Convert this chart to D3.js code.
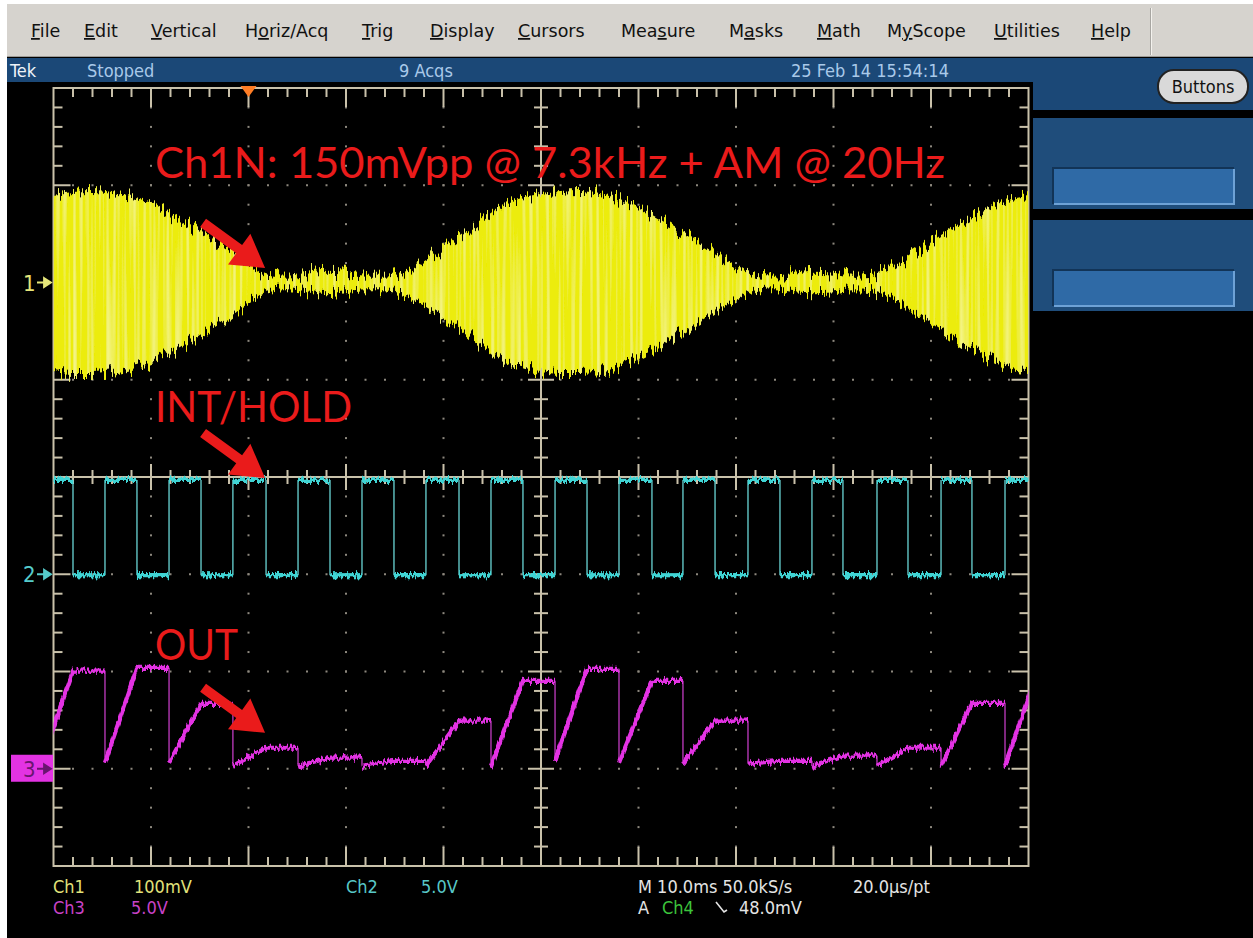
<!DOCTYPE html>
<html>
<head>
<meta charset="utf-8">
<script src="https://cdn.jsdelivr.net/npm/d3@7"></script>
<style>
  body { margin: 0; background: #ffffff; }
  svg { display: block; }
</style>
</head>
<body>
<svg id="scope" width="1253" height="938"></svg>
<script>
// ---------------- data ----------------
const menuItems = ["File", "Edit", "Vertical", "Horiz/Acq", "Trig", "Display", "Cursors",
                   "Measure", "Masks", "Math", "MyScope", "Utilities", "Help"];
const menuUnderline = [0, 0, 0, 1, 0, 0, 0, 3, 1, 0, 1, 0, 0];

const statusLabels = ["Tek", "Stopped", "9 Acqs", "25 Feb 14 15:54:14"];

// Ch1: envelope of the 7.3 kHz carrier (mV about the Ch1 reference), sampled every 2 ms
const ch1TimeMs = [0, 2, 4, 6, 8, 10, 12, 14, 16, 18, 20, 22, 24, 26, 28, 30, 32, 34, 36, 38,
                   40, 42, 44, 46, 48, 50, 52, 54, 56, 58, 60, 62, 64, 66, 68, 70, 72, 74, 76, 78,
                   80, 82, 84, 86, 88, 90, 92, 94, 96, 98, 100];
const ch1UpperMv = [90, 93, 94, 92, 88, 82, 71, 59, 47, 35, 20, 8, 6, 9, 11, 10, 7, 7, 12, 23,
                    35, 48, 65, 79, 87, 91, 93, 94, 91, 86, 77, 66, 54, 42, 29, 17, 8, 6, 9, 11,
                    10, 7, 8, 15, 28, 41, 54, 66, 77, 85, 89];
const ch1LowerMv = [-93, -95, -95, -93, -89, -83, -72, -60, -48, -36, -21, -9, -7, -9, -12, -10, -8, -8, -13, -24,
                    -36, -49, -66, -80, -88, -92, -94, -94, -92, -87, -78, -67, -55, -43, -30, -18, -9, -7, -10, -11,
                    -10, -8, -9, -16, -29, -42, -55, -67, -78, -86, -89];

// Ch2 INT/HOLD: edge times (ms) and the two logic levels (V)
const intRiseMs = [-1.3, 5.28, 11.85, 18.4, 25.08, 31.64, 38.2, 44.87, 51.44, 58.0, 64.56, 71.23, 77.79, 84.46, 91.03, 97.59];
const intFallMs = [2.0, 8.56, 15.13, 21.8, 28.36, 34.92, 41.59, 48.15, 54.72, 61.38, 67.85, 74.51, 80.97, 87.64, 94.2, 100.8];
const intLevelsV = [-0.05, 4.85];

// Ch3 OUT: level reached at the end of each integrate phase, and the reset level (V)
const outHoldV  = [5.04, 5.19, 3.34, 1.08, 0.57, 0.41, 2.47, 4.52, 5.14, 4.52, 2.47, 0.41, 0.67, 1.08, 3.39, 4.8];
const outResetV = [0.2, 0.31, 0.31, 0.15, 0.15, 0.15, 0.15, 0.15, 0.41, 0.31, 0.26, 0.26, 0.15, 0.15, 0.15, 0.15];

// Red annotations: label text and the point (ms, channel value) each arrow points to
const noteLabels = ["Ch1N: 150mVpp @ 7.3kHz + AM @ 20Hz", "INT/HOLD", "OUT"];
const noteTargets = [
  { ch: 1, t: 21.7, v: 15 },
  { ch: 2, t: 21.7, v: 4.95 },
  { ch: 3, t: 21.7, v: 1.85 }
];

// Readouts
const readoutCh = ["Ch1", "Ch2", "Ch3"];
const readoutScale = ["100mV", "5.0V", "5.0V"];
const timebase = "M 10.0ms 50.0kS/s";
const perPoint = "20.0\u00b5s/pt";
const trigSource = "Ch4";
const trigLevel = "48.0mV";
const triggerPosMs = 20;

// ---------------- layout ----------------
const W = 1253, H = 938;
const G = { x0: 53.5, x1: 1028.5, y0: 88, y1: 866 };
const SCOPE_FONT = "'Liberation Sans Narrow','DejaVu Sans Condensed','Arial Narrow',sans-serif";
const UI_FONT = "'DejaVu Sans','Liberation Sans',sans-serif";
const GRAT = "#c9c1aa";
const COL = { ch1: "#ecec0e", ch2: "#3fd4d4", ch3: "#e333e3", red: "#ea1b1b" };

const x = d3.scaleLinear().domain([0, 100]).range([G.x0, G.x1]);       // 10 ms/div
const yDiv = d3.scaleLinear().domain([-4, 4]).range([G.y1, G.y0]);     // divisions
const chY = {
  1: mv => yDiv(2 + mv / 100),   // 100 mV/div, reference +2 div
  2: v => yDiv(-1 + v / 5),      // 5 V/div, reference -1 div
  3: v => yDiv(-3 + v / 5)       // 5 V/div, reference -3 div
};

const svg = d3.select("#scope");
const defs = svg.append("defs");

defs.append("clipPath").attr("id", "gratClip")
  .append("rect").attr("x", G.x0).attr("y", G.y0 - 2)
  .attr("width", G.x1 - G.x0).attr("height", G.y1 - G.y0 + 4);

function userFilter(id) {
  return defs.append("filter").attr("id", id)
    .attr("filterUnits", "userSpaceOnUse")
    .attr("x", 0).attr("y", 0).attr("width", W).attr("height", H);
}

// jagged edges plus faint vertical striations for the dense carrier trace
{
  const f = userFilter("carrier");
  f.append("feTurbulence").attr("type", "fractalNoise").attr("baseFrequency", "0.45 0.01")
    .attr("numOctaves", 2).attr("seed", 3).attr("result", "n");
  f.append("feColorMatrix").attr("in", "n").attr("type", "matrix")
    .attr("values", "0 0 0 0 0.5  1 0 0 0 0  0 0 0 0 0  0 0 0 0 1").attr("result", "d");
  f.append("feDisplacementMap").attr("in", "SourceGraphic").attr("in2", "d")
    .attr("scale", 30).attr("xChannelSelector", "R").attr("yChannelSelector", "G").attr("result", "shape");
  f.append("feTurbulence").attr("type", "fractalNoise").attr("baseFrequency", "0.3 0.004")
    .attr("numOctaves", 1).attr("seed", 8).attr("result", "s0");
  f.append("feColorMatrix").attr("in", "s0").attr("type", "matrix")
    .attr("values", "0 0 0 0 0.98  0 0 0 0 0.98  0 0 0 0 0.5  1.5 0 0 0 -0.72").attr("result", "s1");
  f.append("feComposite").attr("in", "s1").attr("in2", "shape").attr("operator", "in").attr("result", "s2");
  const m = f.append("feMerge");
  m.append("feMergeNode").attr("in", "shape");
  m.append("feMergeNode").attr("in", "s2");
}
{
  const f = userFilter("fuzz");
  f.append("feTurbulence").attr("type", "fractalNoise").attr("baseFrequency", "0.5 0.08")
    .attr("numOctaves", 2).attr("seed", 11).attr("result", "n");
  f.append("feColorMatrix").attr("in", "n").attr("type", "matrix")
    .attr("values", "0 0 0 0 0.5  1 0 0 0 0  0 0 0 0 0  0 0 0 0 1").attr("result", "d");
  f.append("feDisplacementMap").attr("in", "SourceGraphic").attr("in2", "d")
    .attr("scale", 10).attr("xChannelSelector", "R").attr("yChannelSelector", "G");
}

// ---------------- window chrome ----------------
svg.append("rect").attr("width", W).attr("height", H).attr("fill", "#ffffff");
svg.append("rect").attr("x", 7).attr("y", 4).attr("width", W - 7).attr("height", 53).attr("fill", "#d6d3ce");
svg.append("line").attr("x1", 7).attr("x2", W).attr("y1", 56.5).attr("y2", 56.5).attr("stroke", "#9c9a96");
svg.append("line").attr("x1", 1150.5).attr("x2", 1150.5).attr("y1", 8).attr("y2", 55).attr("stroke", "#a8a6a2");
svg.append("line").attr("x1", 1151.5).attr("x2", 1151.5).attr("y1", 8).attr("y2", 55).attr("stroke", "#f4f2ee");

const menuX = [31, 84, 151, 245, 362, 430, 518, 621, 729, 817, 887, 994, 1091];
const menu = svg.append("g").attr("font-family", UI_FONT).attr("font-size", 17.5).attr("fill", "#111");
menuItems.forEach((m, i) => {
  const t = menu.append("text").attr("x", menuX[i]).attr("y", 37);
  const k = menuUnderline[i];
  if (k > 0) t.append("tspan").text(m.slice(0, k));
  t.append("tspan").attr("text-decoration", "underline").text(m[k]);
  t.append("tspan").text(m.slice(k + 1));
});

// black screen area
svg.append("rect").attr("x", 7).attr("y", 57).attr("width", W - 7).attr("height", H - 57).attr("fill", "#000");

// status bar and right-hand control panel
svg.append("rect").attr("x", 7).attr("y", 58).attr("width", W - 7).attr("height", 24).attr("fill", "#1b4877");
svg.append("rect").attr("x", 1033).attr("y", 58).attr("width", W - 1033).attr("height", 52).attr("fill", "#1b4877");
const status = svg.append("g").attr("font-family", SCOPE_FONT).attr("font-size", 18).attr("font-stretch", "condensed");
status.append("text").attr("x", 10).attr("y", 77).attr("fill", "#eef3f8").text(statusLabels[0]);
status.append("text").attr("x", 87).attr("y", 77).attr("fill", "#a9c9e9").text(statusLabels[1]);
status.append("text").attr("x", 399).attr("y", 77).attr("fill", "#a9c9e9").text(statusLabels[2]);
status.append("text").attr("x", 791).attr("y", 77).attr("fill", "#a9c9e9").text(statusLabels[3]);

svg.append("rect").attr("x", 1158).attr("y", 70).attr("width", 90).attr("height", 33).attr("rx", 16)
  .attr("fill", "#d9d9d9").attr("stroke", "#222").attr("stroke-width", 2);
svg.append("text").attr("x", 1203).attr("y", 93).attr("text-anchor", "middle")
  .attr("font-family", SCOPE_FONT).attr("font-size", 18).attr("fill", "#111").text("Buttons");

[118, 220].forEach(top => {
  svg.append("rect").attr("x", 1033).attr("y", top).attr("width", W - 1033).attr("height", 91).attr("fill", "#1f4d7b");
  svg.append("rect").attr("x", 1053).attr("y", top + 50).attr("width", 181).attr("height", 36).attr("fill", "#2f6aa6");
  svg.append("path").attr("d", `M1053,${top + 86}V${top + 50}H1234`).attr("fill", "none").attr("stroke", "#123457").attr("stroke-width", 2);
  svg.append("path").attr("d", `M1054,${top + 86}H1234V${top + 51}`).attr("fill", "none").attr("stroke", "#6ea2d6").attr("stroke-width", 2);
});

// ---------------- graticule ----------------
const grat = svg.append("g");
const divW = (G.x1 - G.x0) / 10, divH = (G.y1 - G.y0) / 8;
// dotted division lines
for (let i = 1; i < 10; i++) {
  if (i === 5) continue;
  for (let j = 1; j < 40; j++) {
    grat.append("rect").attr("x", G.x0 + i * divW - 1).attr("y", G.y0 + j * divH / 5 - 1)
      .attr("width", 2).attr("height", 2).attr("fill", "#8d887e");
  }
}
for (let j = 1; j < 8; j++) {
  if (j === 4) continue;
  for (let i = 1; i < 50; i++) {
    grat.append("rect").attr("x", G.x0 + i * divW / 5 - 1).attr("y", G.y0 + j * divH - 1)
      .attr("width", 2).attr("height", 2).attr("fill", "#8d887e");
  }
}
const cx = G.x0 + 5 * divW, cy = G.y0 + 4 * divH;
grat.append("rect").attr("x", G.x0).attr("y", G.y0).attr("width", G.x1 - G.x0).attr("height", G.y1 - G.y0)
  .attr("fill", "none").attr("stroke", GRAT).attr("stroke-width", 2);
grat.append("line").attr("x1", cx).attr("x2", cx).attr("y1", G.y0).attr("y2", G.y1).attr("stroke", GRAT).attr("stroke-width", 2);
grat.append("line").attr("x1", G.x0).attr("x2", G.x1).attr("y1", cy).attr("y2", cy).attr("stroke", GRAT).attr("stroke-width", 2);
for (let i = 1; i < 50; i++) {
  const xx = G.x0 + i * divW / 5, major = i % 5 === 0;
  const L = major ? 19 : 9;
  grat.append("line").attr("x1", xx).attr("x2", xx).attr("y1", G.y0).attr("y2", G.y0 + L).attr("stroke", GRAT).attr("stroke-width", 2);
  grat.append("line").attr("x1", xx).attr("x2", xx).attr("y1", G.y1).attr("y2", G.y1 - L).attr("stroke", GRAT).attr("stroke-width", 2);
  const c = major ? 13 : 7;
  grat.append("line").attr("x1", xx).attr("x2", xx).attr("y1", cy - c).attr("y2", cy + c).attr("stroke", GRAT).attr("stroke-width", 2);
}
for (let j = 1; j < 40; j++) {
  const yy = G.y0 + j * divH / 5, major = j % 5 === 0;
  const L = major ? 17 : 9;
  grat.append("line").attr("y1", yy).attr("y2", yy).attr("x1", G.x0).attr("x2", G.x0 + L).attr("stroke", GRAT).attr("stroke-width", 2);
  grat.append("line").attr("y1", yy).attr("y2", yy).attr("x1", G.x1).attr("x2", G.x1 - L).attr("stroke", GRAT).attr("stroke-width", 2);
  const c = major ? 13 : 7;
  grat.append("line").attr("y1", yy).attr("y2", yy).attr("x1", cx - c).attr("x2", cx + c).attr("stroke", GRAT).attr("stroke-width", 2);
}

// trigger position marker
const tx = x(triggerPosMs);
svg.append("path").attr("d", `M${tx - 8},${G.y0 - 2}H${tx + 8}L${tx},${G.y0 + 9}Z`).attr("fill", "#ff7d25");

// ---------------- traces ----------------
const traces = svg.append("g").attr("clip-path", "url(#gratClip)");

// Ch1: carrier fills its envelope
const ch1Env = ch1TimeMs.map((t, i) => ({ t, hi: ch1UpperMv[i], lo: ch1LowerMv[i] }));
const ch1Area = d3.area().x(d => x(d.t)).y0(d => chY[1](d.lo)).y1(d => chY[1](d.hi)).curve(d3.curveMonotoneX);
traces.append("g").attr("filter", "url(#carrier)")
  .append("path").datum(ch1Env).attr("d", ch1Area).attr("fill", COL.ch1);

// Ch2: square wave
const line2 = d3.line().x(d => x(d[0])).y(d => chY[2](d[1]));
const [lowV, highV] = intLevelsV;
const intFlat = [], intEdge = [];
intRiseMs.forEach((r, i) => {
  const f = intFallMs[i];
  const next = i + 1 < intRiseMs.length ? intRiseMs[i + 1] : 110;
  intFlat.push([[r, highV], [f, highV]]);
  intFlat.push([[f, lowV], [next, lowV]]);
  intEdge.push([[r, lowV], [r, highV]]);
  intEdge.push([[f, highV], [f, lowV]]);
});
traces.append("g").selectAll("path").data(intEdge).join("path")
  .attr("d", line2).attr("fill", "none").attr("stroke", "#6ad6d6").attr("stroke-width", 1.3);
traces.append("g").attr("filter", "url(#fuzz)").selectAll("path").data(intFlat).join("path")
  .attr("d", line2).attr("fill", "none").attr("stroke", COL.ch2).attr("stroke-width", 4.2);

// Ch3: integrate / hold / reset
const line3 = d3.line().x(d => x(d[0])).y(d => chY[3](d[1]));
const outRun = [], outEdge = [];
intRiseMs.forEach((r, i) => {
  const f = intFallMs[i];
  const next = i + 1 < intRiseMs.length ? intRiseMs[i + 1] : 110;
  if (i > 0) outEdge.push([[r, outHoldV[i - 1]], [r, outResetV[i]]]);
  outRun.push([[r, outResetV[i]], [f, outHoldV[i]], [next, outHoldV[i]]]);
});
traces.append("g").selectAll("path").data(outEdge).join("path")
  .attr("d", line3).attr("fill", "none").attr("stroke", "#c23cc2").attr("stroke-width", 1.3);
traces.append("g").attr("filter", "url(#fuzz)").selectAll("path").data(outRun).join("path")
  .attr("d", line3).attr("fill", "none").attr("stroke", COL.ch3).attr("stroke-width", 4.2)
  .attr("stroke-linejoin", "round");

// ---------------- channel reference markers ----------------
function refMarker(ch, color, boxed) {
  const yy = chY[ch](0);
  const g = svg.append("g");
  let fg = color;
  if (boxed) {
    g.append("rect").attr("x", 11).attr("y", yy - 14).attr("width", 42).attr("height", 27).attr("fill", color);
    fg = "#6a1670";
  }
  g.append("text").attr("x", 23).attr("y", yy + 8).attr("font-family", SCOPE_FONT)
    .attr("font-size", 22).attr("fill", fg).text(String(ch));
  g.append("path").attr("d", `M37,${yy}H49M44,${yy - 4.5}L51,${yy}L44,${yy + 4.5}Z`)
    .attr("stroke", fg).attr("stroke-width", 1.8).attr("fill", fg);
}
refMarker(1, "#e6e67a", false);
refMarker(2, "#56cccc", false);
refMarker(3, COL.ch3, true);

// ---------------- annotations ----------------
const notes = svg.append("g").attr("fill", COL.red).attr("font-family", "Lato, 'Open Sans', sans-serif");
notes.append("text").attr("x", 155).attr("y", 178).attr("font-size", 43)
  .attr("textLength", 790).attr("lengthAdjust", "spacingAndGlyphs").text(noteLabels[0]);
notes.append("text").attr("x", 155).attr("y", 422).attr("font-size", 43)
  .attr("textLength", 197).attr("lengthAdjust", "spacingAndGlyphs").text(noteLabels[1]);
notes.append("text").attr("x", 155).attr("y", 660).attr("font-size", 43)
  .attr("textLength", 83).attr("lengthAdjust", "spacingAndGlyphs").text(noteLabels[2]);

function arrow(tipX, tipY, tailX, tailY) {
  const dx = tipX - tailX, dy = tipY - tailY, len = Math.hypot(dx, dy);
  const ux = dx / len, uy = dy / len, px = -uy, py = ux;
  const headL = 32, headW = 19, shaft = 5;
  const bx = tipX - ux * headL, by = tipY - uy * headL;
  const pts = [
    [tailX + px * shaft, tailY + py * shaft], [bx + px * shaft, by + py * shaft],
    [bx + px * headW, by + py * headW], [tipX, tipY],
    [bx - px * headW, by - py * headW], [bx - px * shaft, by - py * shaft],
    [tailX - px * shaft, tailY - py * shaft]
  ];
  svg.append("path").attr("d", "M" + pts.map(p => p.join(",")).join("L") + "Z").attr("fill", COL.red);
}
noteTargets.forEach(n => {
  const tipX = x(n.t), tipY = chY[n.ch](n.v);
  arrow(tipX, tipY, tipX - 62, tipY - 45);
});

// ---------------- readouts ----------------
const ro = svg.append("g").attr("font-family", SCOPE_FONT).attr("font-size", 18).attr("font-stretch", "condensed");
ro.append("text").attr("x", 53).attr("y", 893).attr("fill", "#e2e27a").text(readoutCh[0]);
ro.append("text").attr("x", 134).attr("y", 893).attr("fill", "#e2e27a").text(readoutScale[0]);
ro.append("text").attr("x", 346).attr("y", 893).attr("fill", "#58c8c8").text(readoutCh[1]);
ro.append("text").attr("x", 421).attr("y", 893).attr("fill", "#58c8c8").text(readoutScale[1]);
ro.append("text").attr("x", 53).attr("y", 914).attr("fill", "#c843c8").text(readoutCh[2]);
ro.append("text").attr("x", 131).attr("y", 914).attr("fill", "#c843c8").text(readoutScale[2]);
ro.append("text").attr("x", 638).attr("y", 893).attr("fill", "#e4e4e4").text(timebase);
ro.append("text").attr("x", 853).attr("y", 893).attr("fill", "#e4e4e4").text(perPoint);
ro.append("text").attr("x", 638).attr("y", 914).attr("fill", "#e4e4e4").text("A");
ro.append("text").attr("x", 662).attr("y", 914).attr("fill", "#3cc43c").text(trigSource);
ro.append("path").attr("d", "M716,902L724,912L727,910").attr("fill", "none").attr("stroke", "#e4e4e4").attr("stroke-width", 1.6);
ro.append("text").attr("x", 739).attr("y", 914).attr("fill", "#e4e4e4").text(trigLevel);
</script>
</body>
</html>
